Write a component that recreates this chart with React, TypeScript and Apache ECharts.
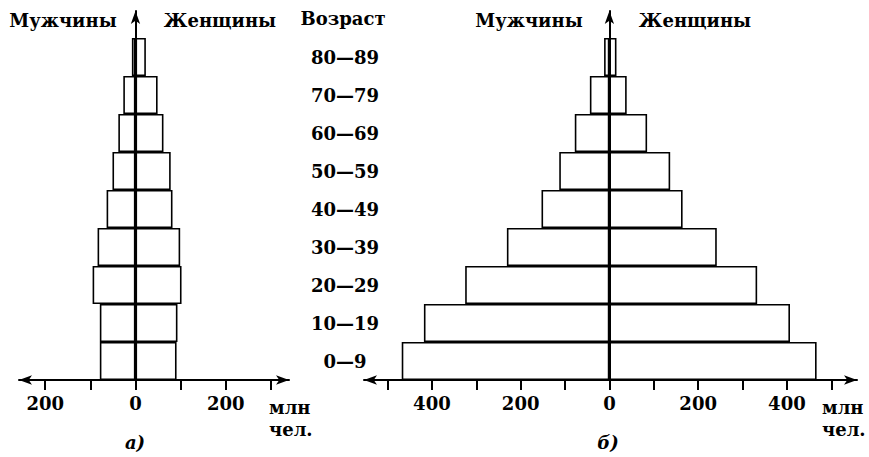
import React, { useEffect, useRef } from 'react';
import * as echarts from 'echarts';

// Age groups, bottom to top
const ageGroups = ['0—9', '10—19', '20—29', '30—39', '40—49', '50—59', '60—69', '70—79', '80—89'];
// Pyramid а) — millions of people
const menA = [79, 79, 95, 84, 64, 51, 38, 27, 8];
const womenA = [91, 93, 102, 99, 82, 78, 62, 49, 23];
// Pyramid б) — millions of people
const menB = [468, 418, 325, 231, 153, 113, 78, 44, 12];
const womenB = [467, 407, 333, 242, 165, 137, 85, 39, 16];
// Axis ticks and labels
const ticksA = [-200, -100, 0, 100, 200, 300];
const labelsA = [-200, 0, 200];
const ticksB = [-500, -400, -300, -200, -100, 0, 100, 200, 300, 400, 500];
const labelsB = [-400, -200, 0, 200, 400];

const FONT = '"DejaVu Serif", serif';
const BLACK = '#000';
const FS = 18;

function axisX(gridIndex: number, min: number, max: number, ticks: number[], labels: number[]) {
  return {
    type: 'value',
    gridIndex,
    min,
    max,
    z: 10,
    axisLine: {
      show: true,
      onZero: false,
      symbol: ['arrow', 'arrow'],
      symbolSize: [7, 13],
      lineStyle: { color: BLACK, width: 2 },
    },
    axisTick: { show: true, customValues: ticks, length: 10, inside: false, lineStyle: { color: BLACK, width: 2 } },
    axisLabel: {
      show: true,
      customValues: labels,
      formatter: (v: number) => String(Math.abs(v)),
      margin: 14,
      color: BLACK,
      fontFamily: FONT,
      fontWeight: 'bold',
      fontSize: FS,
    },
    splitLine: { show: false },
  };
}

function axisY(gridIndex: number) {
  return {
    type: 'value',
    gridIndex,
    min: 0,
    max: 1,
    z: 10,
    axisLine: {
      show: true,
      onZero: true,
      symbol: ['none', 'arrow'],
      symbolSize: [7, 13],
      lineStyle: { color: BLACK, width: 2 },
    },
    axisTick: { show: false },
    axisLabel: { show: false },
    splitLine: { show: false },
  };
}

function barX(gridIndex: number, min: number, max: number) {
  return { type: 'value', gridIndex, min, max, show: false, splitLine: { show: false } };
}

function barSeries(xi: number, yi: number, stack: string, data: number[], sign: number) {
  return {
    type: 'bar',
    xAxisIndex: xi,
    yAxisIndex: yi,
    stack,
    barCategoryGap: '0%',
    data: data.map((v) => sign * v),
    itemStyle: { color: '#fff', borderColor: BLACK, borderWidth: 1.6 },
    emphasis: { disabled: true },
  };
}

function txt(text: string, x: number, y: number, align: string = 'center', italic = false) {
  return {
    type: 'text',
    x,
    y,
    style: {
      text,
      fill: BLACK,
      font: `${italic ? 'italic ' : ''}bold ${FS}px ${FONT}`,
      align,
      verticalAlign: 'middle',
    },
  };
}

export default function App() {
  const ref = useRef<HTMLDivElement>(null);

  useEffect(() => {
    document.body.style.margin = '0';
    if (!ref.current) return;
    const chart = echarts.init(ref.current, null, { renderer: 'svg' });
    const minA = -258, maxA = 340;
    const minB = -553, maxB = 558;
    chart.setOption({
      animation: false,
      backgroundColor: '#fff',
      grid: [
        { left: 19, width: 270, top: 38, height: 342 },
        { left: 19, width: 270, top: 11, height: 369 },
        { left: 364, width: 493, top: 38, height: 342 },
        { left: 364, width: 493, top: 11, height: 369 },
      ],
      xAxis: [
        barX(0, minA, maxA),
        axisX(1, minA, maxA, ticksA, labelsA),
        barX(2, minB, maxB),
        axisX(3, minB, maxB, ticksB, labelsB),
      ],
      yAxis: [
        {
          type: 'category',
          gridIndex: 0,
          data: ageGroups,
          position: 'right',
          axisLine: { show: false },
          axisTick: { show: false },
          axisLabel: {
            show: true,
            align: 'center',
            margin: 56,
            color: BLACK,
            fontFamily: FONT,
            fontWeight: 'bold',
            fontSize: FS,
          },
        },
        axisY(1),
        {
          type: 'category',
          gridIndex: 2,
          data: ageGroups,
          axisLine: { show: false },
          axisTick: { show: false },
          axisLabel: { show: false },
        },
        axisY(3),
      ],
      series: [
        barSeries(0, 0, 'a', menA, -1),
        barSeries(0, 0, 'a', womenA, 1),
        barSeries(2, 2, 'b', menB, -1),
        barSeries(2, 2, 'b', womenB, 1),
      ],
      graphic: [
        txt('Мужчины', 63, 20),
        txt('Женщины', 220, 20),
        txt('Возраст', 343, 18),
        txt('Мужчины', 529, 20),
        txt('Женщины', 695, 20),
        txt('млн', 269, 407, 'left'),
        txt('чел.', 269, 429, 'left'),
        txt('млн', 822, 407, 'left'),
        txt('чел.', 822, 429, 'left'),
        txt('а)', 135, 442, 'center', true),
        txt('б)', 608, 442, 'center', true),
      ],
    });
    return () => chart.dispose();
  }, []);

  return <div ref={ref} style={{ width: 869, height: 457 }} />;
}
